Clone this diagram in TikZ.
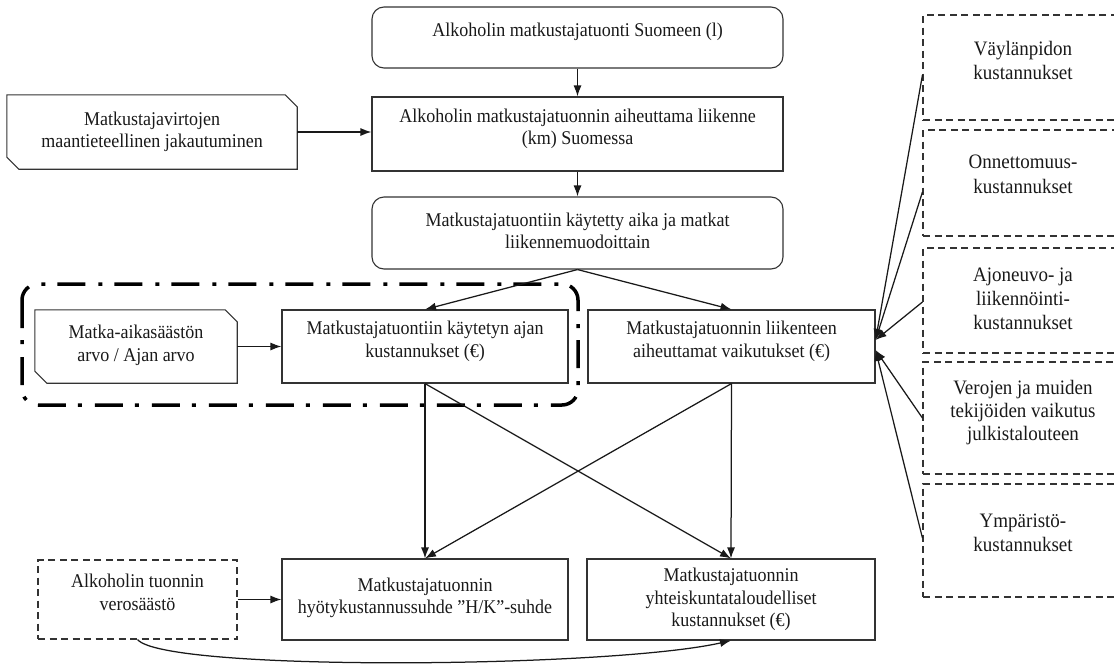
\documentclass[tikz,border=0pt]{standalone}
\usepackage{fontspec}
\usepackage{graphicx}
\setmainfont{Liberation Serif}
\usetikzlibrary{arrows.meta}
\newcommand\vstr[1]{\scalebox{1}[1.08]{\begin{tabular}{@{}c@{}}#1\end{tabular}}}
\begin{document}
\begin{tikzpicture}[x=1pt,y=-1pt,
  box/.style={draw=black!80, line width=1.1pt, inner sep=0pt},
  rbox/.style={box, rounded corners=12pt},
  dbox/.style={box, dash pattern=on 7pt off 4.5pt},
  txt/.style={align=center, inner sep=0pt, text=black!90,
    font=\fontsize{18}{21}\selectfont},
  rtxt/.style={txt, font=\fontsize{19}{22.5}\selectfont},
  chamf/.style={draw=black!80, line width=1.1pt},
  conn/.style={draw=black!90, line width=1.25pt, -{Latex[length=11pt,width=8pt]}},
  grp/.style={draw=black, line width=3.5pt, rounded corners=16pt,
    dash pattern=on 28pt off 12pt on 4pt off 13pt}
]
\path[use as bounding box] (0,0) rectangle (1114,667);
\clip (0,0) rectangle (1114,667);

% main column
\node[rbox, minimum width=411pt, minimum height=61pt] (A) at (577.5,37.5) {};
\node[txt] (tA) at ([yshift=5.5pt]A.center) {\vstr{Alkoholin matkustajatuonti Suomeen (l)}};
\node[box, minimum width=411pt, minimum height=74pt] (B) at (577.5,134) {};
\node[txt] (tB) at ([yshift=5pt]B.center) {\vstr{Alkoholin matkustajatuonnin aiheuttama liikenne\\(km) Suomessa}};
\node[rbox, minimum width=411pt, minimum height=72pt] (C) at (577.5,233) {};
\node[txt] (tC) at (C.center) {\vstr{Matkustajatuontiin käytetty aika ja matkat\\liikennemuodoittain}};

% left chamfered box
\node[minimum width=290pt, minimum height=74pt, inner sep=0pt] (L) at (152,132) {};
\node[txt] (tL) at (L.center) {\vstr{Matkustajavirtojen\\maantieteellinen jakautuminen}};
\draw[chamf] (L.north west) -- ([xshift=-12pt]L.north east) -- ([yshift=-12pt]L.north east)
  -- (L.south east) -- ([xshift=12pt]L.south west) -- ([yshift=12pt]L.south west) -- cycle;

% group
\draw[grp] (22,284) rectangle (578,405);

\node[minimum width=202pt, minimum height=73pt, inner sep=0pt] (M) at (136,346.5) {};
\node[txt] (tM) at ([yshift=1pt]M.center) {\vstr{Matka-aikasäästön\\arvo / Ajan arvo}};
\draw[chamf] (M.north west) -- ([xshift=-12pt]M.north east) -- ([yshift=-12pt]M.north east)
  -- (M.south east) -- ([xshift=12pt]M.south west) -- ([yshift=12pt]M.south west) -- cycle;

\node[box, minimum width=286pt, minimum height=73pt] (T) at (425,346.5) {};
\node[txt] (tT) at ([yshift=5pt]T.center) {\vstr{Matkustajatuontiin käytetyn ajan\\kustannukset (€)}};
\node[box, minimum width=287pt, minimum height=73pt] (E) at (731.5,346.5) {};
\node[txt] (tE) at ([yshift=5pt]E.center) {\vstr{Matkustajatuonnin liikenteen\\aiheuttamat vaikutukset (€)}};

% bottom row
\node[dbox, minimum width=199pt, minimum height=79pt] (V) at (137.5,599.5) {};
\node[txt] (tV) at ([yshift=5pt]V.center) {\vstr{Alkoholin tuonnin\\verosäästö}};
\node[box, minimum width=286pt, minimum height=81pt] (HK) at (425,599.5) {};
\node[txt] (tHK) at ([yshift=1.5pt]HK.center) {\vstr{Matkustajatuonnin\\hyötykustannussuhde ”H/K”-suhde}};
\node[box, minimum width=288pt, minimum height=81pt] (Y) at (731,599.5) {};
\node[txt] (tY) at (Y.center) {\vstr{Matkustajatuonnin\\yhteiskuntataloudelliset\\kustannukset (€)}};

% right dashed boxes
\node[dbox, minimum width=200pt, minimum height=105pt] (R1) at (1023,67.5) {};
\node[rtxt] (tR1) at ([yshift=5pt]R1.center) {\vstr{Väylänpidon\\kustannukset}};
\node[dbox, minimum width=200pt, minimum height=106pt] (R2) at (1023,183) {};
\node[rtxt] (tR2) at ([yshift=7pt]R2.center) {\vstr{Onnettomuus-\\kustannukset}};
\node[dbox, minimum width=200pt, minimum height=105pt] (R3) at (1023,300.5) {};
\node[rtxt] (tR3) at (R3.center) {\vstr{Ajoneuvo- ja\\liikennöinti-\\kustannukset}};
\node[dbox, minimum width=200pt, minimum height=112pt] (R4) at (1023,418) {};
\node[rtxt, font=\fontsize{19}{21.3}\selectfont] (tR4) at ([yshift=5pt]R4.center) {\vstr{Verojen ja muiden\\tekijöiden vaikutus\\julkistalouteen}};
\node[dbox, minimum width=200pt, minimum height=113pt] (R5) at (1023,540.5) {};
\node[rtxt] (tR5) at ([yshift=6pt]R5.center) {\vstr{Ympäristö-\\kustannukset}};

% connectors
\draw[conn] (A) -- (B);
\draw[conn] (L.east) -- (L.east -| B.west);
\draw[conn] (B) -- (C);
\draw[conn] (C.south) -- (T.north);
\draw[conn] (C.south) -- (E.north);
\draw[conn] (M.east) -- (M.east -| T.west);
\draw[conn] (T.south) -- (HK.north);
\draw[conn] (T.south) -- (Y.north);
\draw[conn] (E.south) -- (Y.north);
\draw[conn] (E.south) -- (HK.north);
\draw[conn] (V.east) -- (V.east -| HK.west);
\draw[conn] (V.south) .. controls (165,672) and (610,668) .. (Y.south);
\draw[conn] ([yshift=-7.5pt]R1.west) -- ([yshift=6.5pt]E.east);
\draw[conn] ([yshift=-9pt]R2.west) -- ([yshift=6.5pt]E.east);
\draw[conn] ([yshift=-1.5pt]R3.west) -- ([yshift=6.5pt]E.east);
\draw[conn] (R4.west) -- ([yshift=-3.5pt]E.east);
\draw[conn] ([yshift=2.5pt]R5.west) -- ([yshift=-3.5pt]E.east);
\end{tikzpicture}
\end{document}
